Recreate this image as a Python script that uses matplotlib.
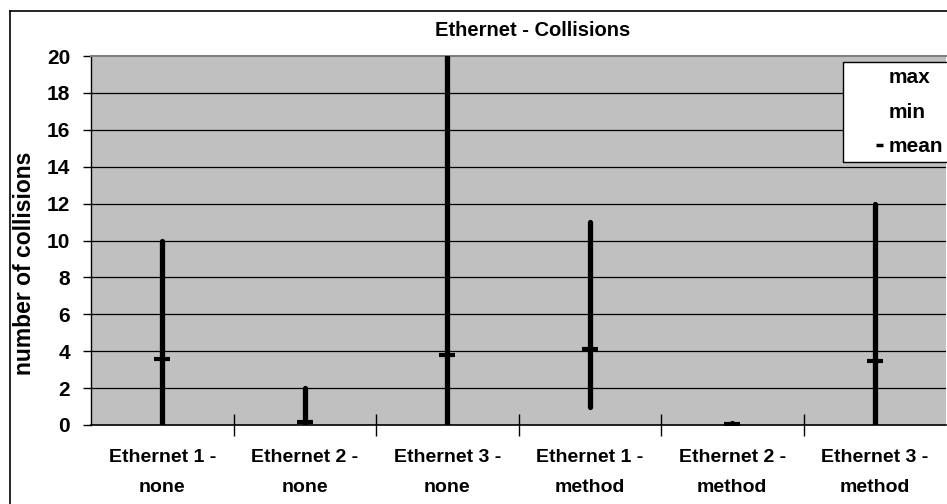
import matplotlib
matplotlib.use("Agg")
import matplotlib.pyplot as plt
from matplotlib.lines import Line2D
from matplotlib.legend_handler import HandlerBase
import numpy as np

categories = ["Ethernet 1 -\nnone", "Ethernet 2 -\nnone", "Ethernet 3 -\nnone",
              "Ethernet 1 -\nmethod", "Ethernet 2 -\nmethod", "Ethernet 3 -\nmethod"]
max_vals = [10, 2, 20, 11, 0.1, 12]
min_vals = [0, 0, 0, 1, 0, 0]
mean_vals = [3.6, 0.15, 3.8, 4.1, 0.05, 3.45]
y_ticks = [0, 2, 4, 6, 8, 10, 12, 14, 16, 18, 20]

plt.rcParams['font.family'] = ['Liberation Sans', 'DejaVu Sans']
plt.rcParams['font.weight'] = 'bold'

W, H = 947, 504
fig = plt.figure(figsize=(W / 100, H / 100), dpi=100)
fig.patch.set_facecolor("white")

# chart area border (top and left edges)
fig.add_artist(Line2D([10 / W, 10 / W], [0, 1 - 11 / H], color="black", lw=1.2))
fig.add_artist(Line2D([10 / W, 1], [1 - 11 / H, 1 - 11 / H], color="black", lw=1.2))

left, right, top, bottom = 91, 946, 56, 425
ax = fig.add_axes([left / W, 1 - bottom / H, (right - left) / W, (bottom - top) / H])
ax.set_facecolor("#C0C0C0")

x = np.arange(len(categories))
ax.set_xlim(-0.5, len(categories) - 0.5)
ax.set_ylim(0, 20)

for yv in y_ticks[1:-1]:
    ax.axhline(yv, color="black", lw=0.9, zorder=1)

# high-low lines
ax.vlines(x, min_vals, max_vals, color="black", lw=3.8, capstyle="round", zorder=3)
# mean markers
ax.plot(x, mean_vals, linestyle="none", marker="_", markersize=12, markeredgewidth=3,
        color="black", zorder=4)

ax.set_yticks(y_ticks)
ax.set_yticklabels([str(v) for v in y_ticks], fontsize=15, fontweight="bold")
ax.tick_params(axis="y", direction="out", length=6, width=1, pad=9)

ax.set_xticks(x)
ax.set_xticklabels(categories, fontsize=14, fontweight="bold", linespacing=2.05)
ax.tick_params(axis="x", length=0, pad=17)
ax.set_xticks(np.arange(0.5, len(categories) - 0.5, 1), minor=True)
ax.tick_params(axis="x", which="minor", direction="inout", length=16, width=1)

ax.spines["right"].set_visible(False)
ax.spines["top"].set_color("#808080")
ax.spines["top"].set_linewidth(1.5)
ax.spines["left"].set_linewidth(1)
ax.spines["bottom"].set_linewidth(1.2)

ax.set_ylabel("number of collisions", fontsize=16.5, fontweight="bold")
ax.yaxis.set_label_coords((36 - left) / (right - left), (bottom - 263) / (bottom - top))
fig.text(533 / W, 1 - 30 / H, "Ethernet - Collisions", ha="center", va="center",
         fontsize=14.5, fontweight="bold")


class EndDash(HandlerBase):
    """Legend key: a short dash at the right end of the key area (or an empty key)."""

    def __init__(self, show):
        super().__init__()
        self.show = show

    def create_artists(self, legend, orig_handle, xdescent, ydescent, width, height,
                       fontsize, trans):
        y = height / 2 - ydescent
        line = Line2D([width - 5, width], [y, y], color="black", lw=2.5,
                      solid_capstyle="butt", transform=trans)
        line.set_visible(self.show)
        return [line]


h_max = Line2D([], [], color="black")
h_min = Line2D([], [], color="black")
h_mean = Line2D([], [], color="black")
leg = ax.legend([h_max, h_min, h_mean], ["max", "min", "mean"], loc="upper right",
                bbox_to_anchor=((949 - left) / (right - left), (bottom - 62) / (bottom - top)),
                borderaxespad=0, frameon=True, fancybox=False,
                handler_map={h_max: EndDash(False), h_min: EndDash(False),
                             h_mean: EndDash(True)},
                prop={"size": 15, "weight": "bold"}, handlelength=1.6, handletextpad=0.25,
                labelspacing=0.74, borderpad=0.3)
leg.get_frame().set_edgecolor("black")
leg.get_frame().set_linewidth(1)
leg.get_frame().set_facecolor("white")
leg.get_frame().set_alpha(1)

fig.savefig("out.png", dpi=100)
